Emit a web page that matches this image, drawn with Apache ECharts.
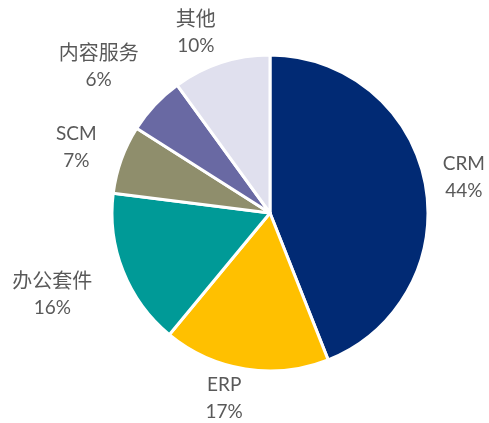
<!DOCTYPE html>
<html>
<head>
    <meta charset="utf-8">
    <title>ECharts</title>
    <script src="https://cdn.jsdelivr.net/npm/echarts@6/dist/echarts.min.js"></script>
</head>
<body style="margin:0;background:#fff;">
 <div id="main" style="width: 489px;height:423px;"></div>
 <script type="text/javascript">
 // 数据
 var names = ['CRM', 'ERP', '办公套件', 'SCM', '内容服务', '其他'];
 var values = [44, 17, 16, 7, 6, 10];
 var colors = ['#012A74', '#FFC000', '#009A97', '#8F8E6C', '#6969A3', '#E0E0EE'];

 var cx = 270, cy = 213, R = 158;
 var enFont = '19px Lato';
 var cnFont = '20px "Noto Sans CJK SC"';
 var total = values.reduce(function (a, b) { return a + b; }, 0);

 // 每个扇区中线角度（从12点方向顺时针）
 function midAngle(i) {
     var s = 0;
     for (var k = 0; k < i; k++) s += values[k];
     return (s + values[i] / 2) / total * Math.PI * 2;
 }
 function isCn(s) { return /[\u4e00-\u9fff]/.test(s); }

 // 量一下标签宽度
 var ctx = document.createElement('canvas').getContext('2d');
 function textW(s, font) { ctx.font = font; return ctx.measureText(s).width; }
 function labelW(i) {
     return Math.max(textW(names[i], isCn(names[i]) ? cnFont : enFont), textW(values[i] + '%', enFont));
 }

 var dom = document.getElementById('main');
 var myChart = echarts.init(dom);
 myChart.setOption({
     animation: false,
     series: [{
         type: 'pie',
         center: [cx, cy],
         radius: R,
         startAngle: 90,
         clockwise: true,
         itemStyle: {
             borderColor: '#fff',
             borderWidth: 3
         },
         label: {
             show: true,
             position: 'outside',
             overflow: 'none',
             formatter: function (p) {
                 return '{' + (isCn(p.name) ? 'cn' : 'en') + '|' + p.name + '}\n{en|' + p.value + '%}';
             },
             color: '#595959',
             align: 'center',
             rich: {
                 en: { fontFamily: 'Lato', fontSize: 19, lineHeight: 27, color: '#595959' },
                 cn: { fontFamily: '"Noto Sans CJK SC"', fontSize: 20, lineHeight: 28, color: '#595959' }
             }
         },
         labelLine: { show: false },
         labelLayout: function (params) {
             var i = params.dataIndex;
             var a = midAngle(i);
             // 标签稍微往水平方向靠（类似 Excel 的摆放）
             var h = a < Math.PI ? Math.PI / 2 : Math.PI * 1.5;
             a = a - 0.06 * (a - h);
             var dx = Math.sin(a), dy = -Math.cos(a);
             var w = labelW(i);
             var d = R + 13 + Math.abs(dx) * w * 0.75 + Math.abs(dy) * 14;
             var x = cx + dx * d;
             // 别超出画布
             x = Math.min(x, dom.clientWidth - w / 2 - 4);
             x = Math.max(x, w / 2 + 4);
             return {
                 x: x,
                 y: cy + dy * d,
                 align: 'center',
                 verticalAlign: 'middle'
             };
         },
         data: names.map(function (n, i) {
             return { name: n, value: values[i], itemStyle: { color: colors[i] } };
         })
     }]
 });
</script>
</body>
</html>
